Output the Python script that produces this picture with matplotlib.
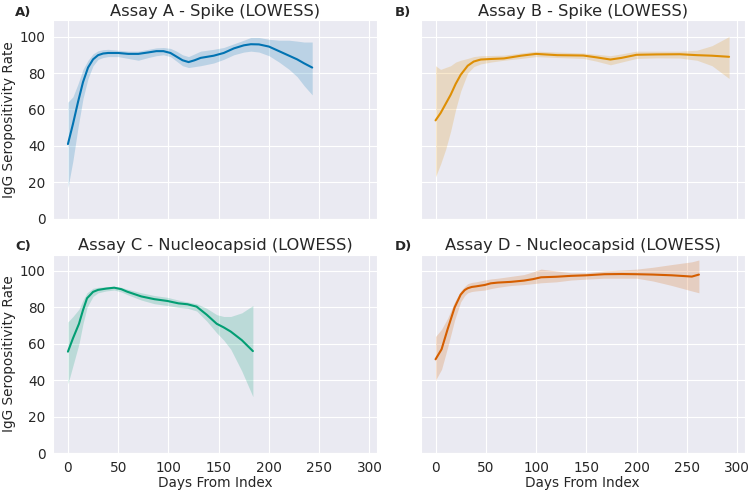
import matplotlib
matplotlib.use("Agg")
import matplotlib.pyplot as plt
import seaborn as sns

# Assay A - Spike
days_a = [0, 5, 10, 15, 20, 25, 30, 35, 40, 50, 60, 70, 80, 88, 95, 102, 108, 114, 120, 126, 132, 145, 155, 165, 175, 182, 190, 200, 210, 220, 228, 235, 243]
rate_a = [41, 52, 64, 75, 83, 87.5, 89.8, 90.7, 91, 91, 90.5, 90.5, 91.3, 92, 92, 91, 89, 87, 86, 87, 88.3, 89.5, 91, 93.5, 95.2, 95.8, 95.7, 94.5, 92, 89.5, 87.5, 85.3, 83]
hi_a = [64, 67, 74, 82, 87, 90.5, 92.2, 92.8, 93, 92.5, 92, 92, 93, 93.8, 94, 93.5, 92, 90, 89, 90.5, 92, 93, 94, 96, 98, 99.5, 99.5, 98.5, 98, 98, 97.5, 97, 97]
lo_a = [17, 32, 50, 66, 77, 84, 87.5, 88.5, 89, 89, 88, 87, 88.5, 89.5, 90, 89, 86.5, 84, 83, 83.5, 84, 85.5, 87.5, 90, 91.5, 92, 91.5, 89.5, 86, 82, 78, 73, 68]

# Assay B - Spike
days_b = [0, 5, 10, 15, 20, 25, 32, 38, 45, 55, 68, 85, 100, 121, 147, 160, 174, 185, 200, 220, 243, 260, 275, 292]
rate_b = [54, 58, 63, 68, 74, 79, 84, 86.3, 87.4, 87.7, 88, 89.5, 90.5, 89.8, 89.6, 88.6, 87.4, 88.3, 90, 90.2, 90.3, 89.8, 89.5, 88.9]
hi_b = [84, 82, 83, 84, 86, 87, 88, 89, 89.5, 89.6, 89.8, 91, 92, 91.5, 91, 90.3, 89.5, 90.5, 92, 92, 92, 92.5, 95, 100]
lo_b = [23, 30, 38, 48, 60, 70, 80, 83.5, 85, 86, 87, 88, 89, 88.5, 88, 86.5, 84.5, 86, 88, 88.3, 88.2, 87, 84, 77]

# Assay C - Nucleocapsid
days_c = [0, 5, 11, 15, 19, 25, 30, 38, 46, 53, 59, 66, 73, 86, 99, 110, 119, 128, 138, 148, 155, 162, 173, 184]
rate_c = [55.7, 63, 71, 78.5, 85, 88.5, 89.6, 90.3, 90.8, 90, 88.6, 87.3, 86, 84.5, 83.5, 82.2, 81.7, 80.4, 76, 71, 69, 66.7, 62, 56]
hi_c = [72, 75, 79, 84, 88, 90.5, 91, 91.3, 91.5, 91, 90, 89, 88, 86.5, 85.5, 84, 83, 82, 79.5, 76, 75, 75, 77, 81]
lo_c = [38, 48, 60, 71, 80, 86, 88, 89, 89.5, 88.5, 87, 85.5, 84, 82, 81, 80, 79.5, 78, 72.5, 66, 62, 57, 45, 31]

# Assay D - Nucleocapsid
days_d = [0, 6, 12, 19, 25, 29, 32, 36, 40, 49, 55, 62, 75, 88, 97, 105, 120, 135, 150, 168, 185, 200, 216, 235, 255, 262]
rate_d = [51.5, 57, 68, 80, 87, 89.5, 90.5, 91.2, 91.5, 92.3, 93.2, 93.6, 94, 94.7, 95.5, 96.5, 96.8, 97.3, 97.6, 98.2, 98.3, 98.2, 98, 97.6, 96.9, 98]
hi_d = [64, 68, 74, 83, 89, 91.5, 93, 93.7, 94, 95, 95.6, 96, 97, 98, 99.5, 101, 100, 99, 99, 100, 100.5, 101, 102, 103.5, 105, 106]
lo_d = [40, 46, 58, 73, 83, 86.5, 88, 88.7, 89, 89.5, 90.3, 91, 92, 92.5, 93, 93.5, 94, 95, 95.5, 96, 96, 96, 94.5, 92, 89, 88]

titles = ["Assay A - Spike (LOWESS)", "Assay B - Spike (LOWESS)",
          "Assay C - Nucleocapsid (LOWESS)", "Assay D - Nucleocapsid (LOWESS)"]
letters = ["A)", "B)", "C)", "D)"]
colors = sns.color_palette("colorblind")[:4]

sns.set_style("darkgrid")
plt.rcParams['font.family'] = ['DejaVu Sans']

fig, axes = plt.subplots(2, 2, figsize=(7.5, 4.92), dpi=100, sharex=True, sharey=True)
fig.subplots_adjust(left=0.071, right=0.993, top=0.959, bottom=0.079, wspace=0.135, hspace=0.18)

data = [(days_a, rate_a, lo_a, hi_a), (days_b, rate_b, lo_b, hi_b),
        (days_c, rate_c, lo_c, hi_c), (days_d, rate_d, lo_d, hi_d)]

for i, ax in enumerate(axes.flat):
    d, r, lo, hi = data[i]
    ax.fill_between(d, lo, hi, color=colors[i], alpha=0.2, linewidth=0)
    ax.plot(d, r, color=colors[i], linewidth=1.5)
    ax.set_title(titles[i], fontsize=11.7, pad=3)
    ax.text(-0.117 if i % 2 == 0 else -0.08, 1.04, letters[i], transform=ax.transAxes,
            fontsize=9.5, fontweight='bold', ha='left', va='center')
    ax.tick_params(labelsize=9.8, pad=2)

ax = axes[0, 0]
ax.set_xlim(-14.6, 307.6)
ax.set_ylim(0, 109)
ax.set_xticks([0, 50, 100, 150, 200, 250, 300])
ax.set_yticks([0, 20, 40, 60, 80, 100])
for a in axes[:, 0]:
    a.set_ylabel("IgG Seropositivity Rate", fontsize=9.8, labelpad=3)
for a in axes[1, :]:
    a.set_xlabel("Days From Index", fontsize=9.8, labelpad=1)

fig.savefig("out.png", dpi=100)
